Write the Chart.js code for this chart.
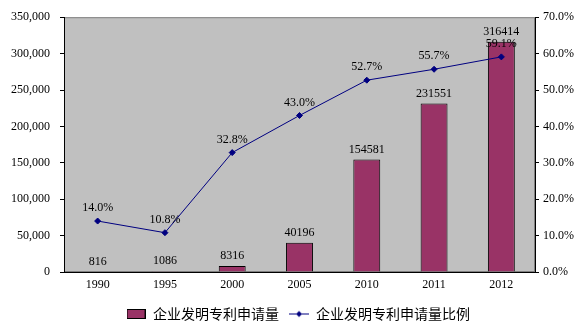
<!DOCTYPE html>
<html><head><meta charset="utf-8">
<script src="https://cdn.jsdelivr.net/npm/chart.js@4/dist/chart.umd.min.js"></script>
<style>html,body{margin:0;padding:0;background:#fff;}canvas{display:block;}</style>
</head><body>
<canvas id="c" width="582" height="328"></canvas>
<script>
const categories = ['1990','1995','2000','2005','2010','2011','2012'];
const applications = [816, 1086, 8316, 40196, 154581, 231551, 316414];
const shares = [14.0, 10.8, 32.8, 43.0, 52.7, 55.7, 59.1];
const seriesNames = ['企业发明专利申请量', '企业发明专利申请量比例'];
const leftTicks = [0, 50000, 100000, 150000, 200000, 250000, 300000, 350000];
const rightTicks = [0, 10, 20, 30, 40, 50, 60, 70];

const BAR = '#993366', LINE = '#000080';
const numFont = {family: '"Liberation Serif", serif', size: 12};

function swatchBar(){const c=document.createElement('canvas');c.width=19;c.height=10;const x=c.getContext('2d');x.fillStyle=BAR;x.fillRect(0,0,19,10);x.strokeStyle='#000';x.lineWidth=1;x.strokeRect(0.5,0.5,18,9);return c;}
function swatchLine(){const c=document.createElement('canvas');c.width=20;c.height=9;const x=c.getContext('2d');x.strokeStyle=LINE;x.lineWidth=1;x.beginPath();x.moveTo(0,4.5);x.lineTo(20,4.5);x.stroke();x.fillStyle=LINE;x.beginPath();x.moveTo(10,1.5);x.lineTo(13,4.5);x.lineTo(10,7.5);x.lineTo(7,4.5);x.closePath();x.fill();return c;}

const bgPlugin = {
  id:'bg',
  afterLayout(chart){ if(chart.legend){chart.legend.left+=7;chart.legend.right+=7;} },
  beforeDraw(chart){const a=chart.chartArea,ctx=chart.ctx;ctx.save();ctx.fillStyle='#C0C0C0';ctx.fillRect(a.left,a.top,a.right-a.left,a.bottom-a.top);ctx.strokeStyle='#808080';ctx.lineWidth=1;ctx.strokeRect(a.left+0.5,a.top+0.5,a.right-a.left-1,a.bottom-a.top-1);ctx.restore();}
};
const labelPlugin = {
  id:'labels',
  afterDatasetsDraw(chart){
    const ctx=chart.ctx;ctx.save();ctx.fillStyle='#000';ctx.font='12px "Liberation Serif", serif';ctx.textAlign='center';ctx.textBaseline='middle';
    chart.getDatasetMeta(1).data.forEach((el,i)=>{ctx.fillText(String(applications[i]),el.x,el.y-10);});
    chart.getDatasetMeta(0).data.forEach((el,i)=>{ctx.fillText(shares[i].toFixed(1)+'%',el.x,el.y-13);});
    ctx.restore();
  }
};

new Chart(document.getElementById('c'),{
  data:{
    labels:categories,
    datasets:[
      {type:'line',label:seriesNames[1],data:shares,yAxisID:'y1',borderColor:LINE,backgroundColor:LINE,borderWidth:1,pointStyle:'rectRot',pointRadius:3,pointBackgroundColor:LINE,pointBorderColor:LINE,tension:0,order:0},
      {type:'bar',label:seriesNames[0],data:applications,yAxisID:'y',backgroundColor:BAR,borderColor:'#000',borderWidth:1,barPercentage:0.4,categoryPercentage:1,order:1}
    ]
  },
  options:{
    responsive:false,animation:false,
    layout:{padding:{top:15,left:0,right:0,bottom:-3}},
    plugins:{
      tooltip:{enabled:false},
      legend:{position:'bottom',
        labels:{usePointStyle:true,pointStyleWidth:20,padding:10,color:'#000',font:{family:'"Noto Sans CJK SC", sans-serif',size:14},
          generateLabels(chart){return [
            {text:seriesNames[0],pointStyle:swatchBar(),fillStyle:BAR,strokeStyle:'#000',lineWidth:0,datasetIndex:1},
            {text:seriesNames[1],pointStyle:swatchLine(),fillStyle:LINE,strokeStyle:LINE,lineWidth:0,datasetIndex:0}
          ];}
        }
      }
    },
    scales:{
      x:{offset:true,grid:{display:false,drawTicks:false},border:{display:true,color:'#000'},ticks:{color:'#000',font:numFont,padding:6,maxRotation:0},
        afterFit(s){s.height=25;}},
      y:{position:'left',min:0,max:350000,afterBuildTicks(s){s.ticks=leftTicks.map(v=>({value:v}));},
        grid:{drawOnChartArea:false,drawTicks:true,tickLength:4,color:'#000'},border:{display:true,color:'#000'},
        ticks:{color:'#000',font:numFont,padding:10,callback:v=>v.toLocaleString('en-US')},
        afterFit(s){s.width=64;}},
      y1:{position:'right',min:0,max:70,afterBuildTicks(s){s.ticks=rightTicks.map(v=>({value:v}));},
        grid:{drawOnChartArea:false,drawTicks:true,tickLength:4,color:'#000'},border:{display:true,color:'#000'},
        ticks:{color:'#000',font:numFont,padding:4,callback:v=>v.toFixed(1)+'%'},
        afterFit(s){s.width=47;}}
    }
  },
  plugins:[bgPlugin,labelPlugin]
});
</script>
</body></html>
